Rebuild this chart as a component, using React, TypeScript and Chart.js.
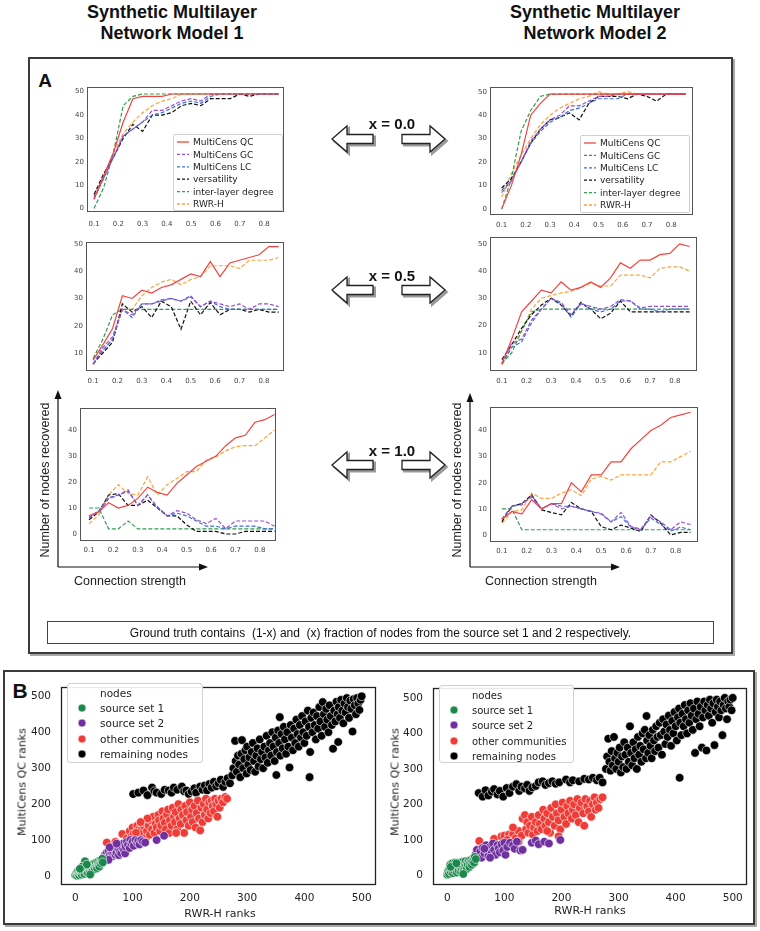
import React, { useEffect, useRef } from "react";
import { Chart, registerables } from "chart.js";
Chart.register(...registerables);

// ------------------------------------------------------------------ data
const connStrength = [0.1, 0.14, 0.18, 0.22, 0.26, 0.3, 0.34, 0.38, 0.42, 0.46, 0.5, 0.54, 0.58, 0.62, 0.66, 0.7, 0.74, 0.78, 0.82, 0.86];
const xTickVals = [0.1, 0.2, 0.3, 0.4, 0.5, 0.6, 0.7, 0.8];
const yTicksTop = [0, 10, 20, 30, 40, 50];
const yTicksMid = [10, 20, 30, 40, 50];
const yTicksBot = [0, 10, 20, 30, 40];
const methodNames = ["MultiCens QC", "MultiCens GC", "MultiCens LC", "versatility", "inter-layer degree", "RWR-H"];

// Model 1, x = 0.0
const m1x00QC = [4, 14, 24, 37, 47, 48, 48, 48, 49, 49, 49, 49, 49, 49, 49, 49, 49, 49, 49, 49];
const m1x00GC = [5, 13, 22, 31, 34, 37, 42, 42, 44, 46, 47, 46, 49, 49, 49, 49, 49, 49, 49, 49];
const m1x00LC = [4, 13, 22, 31, 34, 37, 40, 41, 43, 45, 46, 45, 48, 49, 49, 49, 49, 49, 49, 49];
const m1x00Vers = [6, 15, 22, 30, 36, 33, 40, 40, 41, 44, 45, 44, 47, 47, 47, 49, 48, 49, 49, 49];
const m1x00ILD = [0, 9, 24, 44, 48, 49, 49, 49, 49, 49, 49, 49, 49, 49, 49, 49, 49, 49, 49, 49];
const m1x00RWR = [5, 14, 24, 32, 37, 41, 44, 46, 47, 49, 49, 49, 49, 49, 49, 49, 49, 49, 49, 49];
// Model 2, x = 0.0
const m2x00QC = [0, 10, 23, 40, 45, 49, 49, 49, 49, 49, 49, 49, 49, 49, 49, 49, 49, 49, 49, 49];
const m2x00GC = [7, 12, 20, 29, 34, 38, 40, 44, 44, 46, 48, 48, 49, 49, 49, 49, 49, 49, 49, 49];
const m2x00LC = [8, 12, 20, 28, 33, 37, 39, 42, 43, 45, 47, 47, 47, 49, 49, 49, 49, 49, 49, 49];
const m2x00Vers = [9, 13, 20, 28, 34, 38, 39, 41, 38, 45, 48, 48, 48, 47, 49, 48, 46, 49, 49, 49];
const m2x00ILD = [0, 13, 33, 42, 48, 49, 49, 49, 49, 49, 49, 49, 49, 49, 49, 49, 49, 49, 49, 49];
const m2x00RWR = [5, 15, 23, 30, 36, 40, 43, 45, 47, 48, 50, 49, 49, 50, 49, 49, 49, 49, 49, 49];
// Model 1, x = 0.5
const m1x05QC = [7.4, 13, 19, 31, 30, 33, 32, 34, 35, 37, 39, 38, 43.5, 38, 43, 44, 45, 46, 49, 49];
const m1x05GC = [6, 12, 16, 26, 24, 28, 28, 29.5, 30, 29, 30.5, 27, 29, 28, 27, 28, 26, 28, 28, 27];
const m1x05LC = [6, 11, 15, 26, 23, 28, 28, 29, 30, 29, 31, 27, 29, 27, 26, 26, 26, 26, 26, 26];
const m1x05Vers = [6, 10, 14, 28, 25, 27, 23, 29, 27, 18.7, 29, 24, 28.5, 24, 26, 26, 25, 26, 25, 25];
const m1x05ILD = [8, 15, 24, 26, 26, 26, 26, 26, 26, 26, 26, 26, 26, 26, 26, 26, 26, 26, 26, 26];
const m1x05RWR = [5.6, 11, 15, 26, 26, 31, 34, 36, 37, 35, 37, 38, 42, 42, 42, 41, 44, 44, 44, 45];
// Model 2, x = 0.5
const m2x05QC = [6, 15, 25, 29, 33, 32, 36, 33, 34, 36, 34, 37.5, 43, 41, 44, 44, 46, 46.5, 50, 49];
const m2x05GC = [6, 13.5, 15, 22, 26, 30, 28.5, 24, 28, 27, 26, 27, 29.5, 29, 26.5, 27, 27, 27, 27, 27];
const m2x05LC = [6, 12, 14, 21, 26, 30, 28, 23, 28, 26, 25, 26, 29, 29, 26, 26, 25, 26, 26, 26];
const m2x05Vers = [7.5, 13, 19, 24, 27.5, 30, 27.5, 23.5, 28.5, 26, 22.5, 24.5, 29, 25, 25, 25, 25, 25, 25, 25];
const m2x05ILD = [6, 10, 18, 25, 26, 26, 26, 26, 26, 26, 26, 26, 26, 26, 26, 26, 26, 26, 26, 26];
const m2x05RWR = [5.5, 12, 18, 26, 30, 31, 32, 32.5, 34, 35.5, 34.5, 34.5, 38.5, 38.5, 38.5, 37.5, 41, 41.5, 41.5, 40];
// Model 1, x = 1.0
const m1x10QC = [7, 8.6, 12, 10, 11, 13.7, 18, 16, 15, 19.5, 22.7, 26, 28, 30, 34, 37, 38, 43, 44, 46];
const m1x10GC = [6.5, 8.5, 13.5, 15, 17, 11, 15, 10.5, 7, 9, 8, 5.5, 4, 6, 2, 5, 5, 5, 5, 3];
const m1x10LC = [6, 9, 14, 15, 16.5, 11, 15, 10, 7, 8, 7, 5, 3, 3, 2, 3, 3, 3, 2, 2];
const m1x10Vers = [5.5, 8.5, 15, 15.5, 11, 11, 13, 10, 7, 7, 3.5, 1, 1, 1, 0, 0, 1, 1, 1, 1];
const m1x10ILD = [10, 10, 2, 2, 5, 2, 2, 2, 2, 2, 2, 2, 2, 2, 2, 2, 2, 2, 2, 2];
const m1x10RWR = [4, 7.3, 15, 19, 15.6, 15, 22, 15, 19, 21.4, 24, 24, 28.5, 29.7, 32, 33.6, 34, 34, 37, 40];
// Model 2, x = 1.0
const m2x10QC = [6, 9, 8, 13.5, 10, 12, 12, 20, 16.5, 23, 23, 28, 28, 33, 36.5, 40, 42, 45, 46, 47];
const m2x10GC = [6, 11, 11.5, 15, 10, 12, 10, 11, 10, 9, 8.3, 5, 8.6, 3.2, 2.2, 7.3, 5, 2, 5, 4];
const m2x10LC = [6, 11, 12, 14.5, 10, 12, 11, 11, 10, 9, 8, 5, 7, 3, 2, 6.5, 4, 1.5, 3, 2];
const m2x10Vers = [5, 11, 12, 15.4, 9.6, 8.6, 7.7, 12.4, 10, 9, 3.2, 2, 3.8, 2.6, 1.3, 7.7, 4.5, 0, 1, 1];
const m2x10ILD = [10, 10, 2, 2, 2, 2, 2, 2, 2, 2, 2, 2, 2, 2, 2, 2, 2, 2, 2, 2];
const m2x10RWR = [4.5, 9, 9.6, 16, 14, 14, 16, 17.3, 15, 21.4, 22.4, 21, 23, 23, 23, 23, 28, 28, 30, 32];

// Panel B scatter (RWR-H rank, MultiCens QC rank)
const rankTicks = [0, 100, 200, 300, 400, 500];
const groupNames = ["source set 1", "source set 2", "other communities", "remaining nodes"];

const m1Source1: [number, number][] = [[0,3],[2,8],[3,1],[4,12],[5,5],[6,9],[7,2],[8,14],[9,7],[10,11],[11,4],[12,16],[13,9],[14,20],[15,13],[16,6],[17,41],[18,18],[19,11],[20,24],[21,15],[22,8],[23,21],[24,27],[25,17],[26,12],[27,25],[28,30],[29,20],[30,15],[31,28],[32,34],[33,24],[34,19],[35,31],[36,37],[37,27],[38,22],[39,34],[40,40],[41,30],[42,26],[43,38],[44,44],[45,34],[46,42],[47,48],[48,38],[12,26],[20,32],[26,4],[8,20]];
const m1Source2: [number, number][] = [[50,52],[52,60],[55,65],[55,50],[58,70],[60,58],[62,75],[63,62],[65,55],[66,68],[68,80],[70,72],[70,60],[72,65],[74,85],[75,76],[76,58],[78,70],[80,88],[80,64],[82,78],[84,90],[85,72],[87,63],[88,82],[90,95],[92,86],[95,78],[96,100],[98,90],[100,96],[102,84],[105,100],[108,92],[110,98],[112,88],[115,100],[118,96],[122,93],[142,100],[155,112],[60,80],[72,90],[58,45]];
const m1Other: [number, number][] = [[55,93],[70,95],[82,117],[90,105],[95,125],[98,110],[100,135],[102,118],[105,100],[108,140],[110,128],[112,112],[115,145],[116,130],[118,120],[120,138],[122,148],[124,108],[125,125],[128,140],[130,115],[132,155],[134,130],[136,165],[138,120],[140,145],[142,135],[145,170],[146,155],[148,125],[150,140],[152,180],[154,160],[156,148],[158,130],[160,172],[162,185],[164,120],[165,155],[168,140],[170,190],[172,165],[174,150],[175,178],[178,130],[180,200],[182,160],[184,145],[185,185],[188,170],[190,120],[192,195],[194,155],[195,178],[198,140],[200,205],[202,165],[204,185],[205,150],[208,195],[210,135],[212,175],[214,210],[216,160],[218,127],[220,190],[222,150],[224,200],[226,170],[228,215],[230,185],[232,160],[234,205],[236,175],[238,210],[240,195],[242,180],[244,215],[246,200],[248,165],[250,210],[252,190],[255,215],[258,205],[262,220],[265,215],[176,120],[126,160],[114,150],[106,120]];
const m1Remaining: [number, number][] = [[101,228],[110,232],[119,238],[126,225],[134,246],[138,236],[142,232],[150,228],[156,240],[163,238],[168,232],[172,246],[178,240],[186,249],[190,236],[194,238],[198,228],[203,235],[208,244],[211,232],[218,249],[222,240],[226,252],[230,238],[234,256],[238,246],[242,262],[246,250],[250,258],[254,268],[258,248],[262,262],[266,272],[270,258],[274,280],[276,300],[279,376],[280,320],[282,290],[284,335],[286,310],[288,275],[290,340],[291,378],[293,300],[295,325],[297,350],[299,285],[300,360],[302,310],[304,330],[306,295],[308,345],[310,370],[312,320],[314,290],[316,335],[318,355],[320,305],[322,380],[324,325],[326,345],[328,300],[330,360],[332,330],[334,390],[336,315],[338,350],[340,370],[342,335],[344,400],[346,360],[348,320],[350,385],[351,281],[352,345],[354,405],[356,370],[357,442],[358,335],[360,395],[362,355],[364,415],[366,380],[368,340],[370,400],[372,360],[374,302],[376,420],[378,385],[380,350],[382,410],[384,370],[386,435],[388,395],[390,360],[392,420],[394,385],[396,445],[398,400],[400,370],[402,430],[404,390],[406,460],[408,415],[409,275],[410,345],[412,440],[414,400],[416,455],[418,420],[420,380],[422,445],[424,410],[426,470],[428,430],[430,390],[432,484],[434,450],[436,415],[438,465],[440,435],[442,400],[444,475],[446,445],[448,420],[450,354],[452,460],[454,430],[456,485],[458,450],[459,373],[460,470],[462,440],[464,490],[466,460],[468,425],[470,480],[472,455],[474,495],[476,470],[478,440],[480,488],[482,465],[484,402],[486,492],[488,475],[490,450],[492,495],[494,480],[496,462],[498,490],[500,500]];

const m2Source1: [number, number][] = [[0,2],[1,8],[2,14],[3,4],[4,20],[5,30],[6,10],[7,26],[8,16],[9,34],[10,6],[11,22],[12,30],[13,12],[14,36],[15,18],[16,26],[17,8],[18,32],[19,20],[20,14],[21,28],[22,36],[23,22],[24,10],[25,30],[26,18],[27,38],[28,26],[29,14],[30,34],[31,22],[32,40],[33,28],[34,18],[35,36],[36,30],[38,42],[39,24],[40,36],[42,44],[43,30],[44,40],[46,48],[47,36],[48,52],[50,46],[6,24],[16,34],[28,4]];
const m2Source2: [number, number][] = [[50,60],[52,72],[55,55],[58,68],[60,50],[62,78],[65,62],[68,85],[70,70],[72,55],[75,80],[78,65],[80,90],[82,72],[85,58],[88,85],[90,76],[92,65],[95,88],[98,70],[100,92],[102,58],[105,80],[110,92],[115,85],[118,75],[122,95],[128,70],[132,72],[148,92],[155,98],[160,88],[170,95],[178,90],[198,100],[65,75],[75,50]];
const m2Other: [number, number][] = [[56,97],[82,103],[95,110],[100,112],[108,115],[115,118],[120,105],[125,125],[130,112],[132,160],[136,170],[138,130],[140,150],[142,120],[145,140],[148,165],[150,115],[152,135],[155,150],[158,125],[160,170],[162,145],[165,130],[168,185],[170,160],[172,140],[175,175],[178,150],[180,120],[182,190],[185,165],[188,140],[190,200],[192,175],[195,155],[198,130],[200,185],[202,205],[205,165],[208,145],[210,195],[212,175],[215,210],[218,160],[220,185],[222,200],[225,170],[228,215],[230,150],[232,190],[235,205],[238,175],[240,140],[242,215],[245,195],[248,180],[250,210],[252,165],[255,200],[258,220],[260,185],[262,205],[265,190],[268,215],[272,220],[115,135],[105,100],[125,95],[175,125],[195,110]];
const m2Remaining: [number, number][] = [[55,232],[62,222],[67,240],[72,225],[78,236],[82,243],[88,228],[92,238],[98,222],[104,246],[109,232],[115,250],[121,257],[126,238],[130,250],[136,245],[140,255],[144,238],[149,248],[155,252],[160,262],[167,265],[172,255],[178,260],[184,265],[190,258],[196,262],[208,270],[215,262],[220,268],[231,265],[240,272],[248,270],[255,275],[262,268],[267,275],[272,262],[278,300],[280,335],[282,385],[284,320],[286,295],[288,350],[290,310],[292,390],[294,330],[296,300],[298,345],[300,320],[302,360],[304,290],[306,335],[308,305],[310,375],[312,340],[314,300],[316,360],[318,320],[320,420],[322,345],[324,310],[326,375],[328,330],[330,355],[332,300],[334,390],[336,340],[338,365],[340,320],[342,400],[344,355],[346,410],[348,330],[349,449],[350,380],[352,345],[354,395],[356,365],[358,330],[360,410],[362,380],[364,350],[366,420],[368,390],[370,360],[372,430],[374,395],[376,340],[378,440],[380,405],[382,370],[384,425],[386,390],[388,450],[390,410],[392,365],[394,435],[396,400],[398,460],[400,420],[402,380],[404,445],[406,470],[407,275],[408,430],[410,395],[412,455],[414,420],[416,480],[418,440],[420,400],[422,465],[424,430],[426,485],[428,450],[430,410],[432,470],[434,345],[436,440],[438,490],[440,455],[442,420],[444,475],[446,360],[448,445],[450,490],[452,465],[454,352],[456,480],[458,450],[460,495],[462,470],[464,430],[466,485],[468,367],[470,460],[472,495],[474,475],[476,445],[478,490],[480,465],[482,395],[484,480],[486,500],[488,470],[490,440],[492,490],[494,475],[496,495],[498,465],[500,500]];

// ------------------------------------------------------------------ styles
const methodColors = ["#f4433f", "#9a4fd0", "#3d6fdc", "#111111", "#2f9e51", "#ffa33b"];
const methodDash: number[][] = [[], [4, 2], [4, 2], [4, 2], [4, 2], [4, 2]];
const groupColors = ["#1b874b", "#70309f", "#f03c37", "#000000"];
const SANS = "'Liberation Sans', Arial, sans-serif";
const DJV = "'DejaVu Sans', sans-serif";

const framePlugin = {
  id: "frame",
  afterDatasetsDraw(chart: any, _a: any, opts: any) {
    const { ctx, chartArea: a } = chart;
    ctx.save();
    ctx.strokeStyle = opts.color || "#444";
    ctx.lineWidth = opts.width || 1;
    ctx.strokeRect(Math.round(a.left) + 0.5, Math.round(a.top) + 0.5, Math.round(a.right - a.left) - 1, Math.round(a.bottom - a.top) - 1);
    ctx.restore();
  },
};

type Plot = { L: number; R: number; T: number; B: number };

function LinePanel(props: { plot: Plot; series: number[][]; y: [number, number]; yTicks: number[]; x: [number, number]; xPad: number }) {
  const { plot, series, y, yTicks, x, xPad } = props;
  const yW = 24, padT = 8, padR = 6, xH = 20;
  const w = plot.R - plot.L + yW + padR;
  const h = plot.B - plot.T + padT + xH;
  const ref = useRef<HTMLCanvasElement>(null);
  useEffect(() => {
    const chart = new Chart(ref.current as HTMLCanvasElement, {
      type: "line",
      data: {
        datasets: series.map((vals, i) => ({
          label: methodNames[i],
          data: connStrength.map((cx, j) => ({ x: cx, y: vals[j] })),
          borderColor: methodColors[i],
          borderWidth: 1.2,
          borderDash: methodDash[i],
          pointRadius: 0,
          fill: false,
          tension: 0,
        })),
      },
      options: {
        animation: false,
        responsive: false,
        devicePixelRatio: 1,
        layout: { padding: { left: 0, top: padT, right: padR, bottom: 0 } },
        plugins: { legend: { display: false }, tooltip: { enabled: false }, frame: { color: "#555", width: 1 } } as any,
        scales: {
          x: {
            type: "linear", min: x[0], max: x[1],
            grid: { display: false, drawTicks: false }, border: { display: false },
            ticks: { font: { family: DJV, size: 7 }, color: "#444", padding: xPad, maxRotation: 0, autoSkip: false, callback: (v: any) => Number(v).toFixed(1) },
            afterBuildTicks: (s: any) => { s.ticks = xTickVals.map((v) => ({ value: v })); },
            afterFit: (s: any) => { s.height = xH; },
          },
          y: {
            type: "linear", min: y[0], max: y[1],
            grid: { display: false, drawTicks: false }, border: { display: false },
            ticks: { font: { family: DJV, size: 7 }, color: "#444", padding: 3, autoSkip: false, callback: (v: any) => String(Math.round(Number(v))) },
            afterBuildTicks: (s: any) => { s.ticks = yTicks.map((v) => ({ value: v })); },
            afterFit: (s: any) => { s.width = yW; },
          },
        },
      },
      plugins: [framePlugin],
    } as any);
    return () => chart.destroy();
  }, []);
  return <canvas ref={ref} width={w} height={h} style={{ position: "absolute", left: plot.L - yW, top: plot.T - padT, width: w, height: h }} />;
}

function ScatterPanel(props: { plot: Plot; groups: [number, number][][]; x: [number, number]; y: [number, number] }) {
  const { plot, groups, x, y } = props;
  const yW = 40, padT = 8, padR = 6, xH = 28;
  const w = plot.R - plot.L + yW + padR;
  const h = plot.B - plot.T + padT + xH;
  const ref = useRef<HTMLCanvasElement>(null);
  useEffect(() => {
    const chart = new Chart(ref.current as HTMLCanvasElement, {
      type: "scatter",
      data: {
        datasets: groups.map((pts, i) => ({
          label: groupNames[i],
          data: pts.map(([px, py]) => ({ x: px, y: py })),
          pointRadius: 4.3,
          pointBackgroundColor: groupColors[i],
          pointBorderColor: "#ffffff",
          pointBorderWidth: 0.6,
        })),
      },
      options: {
        animation: false,
        responsive: false,
        devicePixelRatio: 1,
        layout: { padding: { left: 0, top: padT, right: padR, bottom: 0 } },
        plugins: { legend: { display: false }, tooltip: { enabled: false }, frame: { color: "#222", width: 1.3 } } as any,
        scales: {
          x: {
            type: "linear", min: x[0], max: x[1],
            grid: { display: false, drawTicks: false }, border: { display: false },
            ticks: { font: { family: DJV, size: 10.5 }, color: "#222", padding: 7, maxRotation: 0, autoSkip: false },
            afterBuildTicks: (s: any) => { s.ticks = rankTicks.map((v) => ({ value: v })); },
            afterFit: (s: any) => { s.height = xH; },
          },
          y: {
            type: "linear", min: y[0], max: y[1],
            grid: { display: false, drawTicks: false }, border: { display: false },
            ticks: { font: { family: DJV, size: 10.5 }, color: "#222", padding: 10, autoSkip: false },
            afterBuildTicks: (s: any) => { s.ticks = rankTicks.map((v) => ({ value: v })); },
            afterFit: (s: any) => { s.width = yW; },
          },
        },
      },
      plugins: [framePlugin],
    } as any);
    return () => chart.destroy();
  }, []);
  return <canvas ref={ref} width={w} height={h} style={{ position: "absolute", left: plot.L - yW, top: plot.T - padT, width: w, height: h }} />;
}

function Txt(p: { x: number; y: number; size: number; bold?: boolean; anchor?: "start" | "middle"; rotate?: number; family?: string; color?: string; children: any }) {
  const tx = p.anchor === "start" ? "0" : "-50%";
  return (
    <div
      style={{
        position: "absolute", left: p.x, top: p.y, whiteSpace: "pre", lineHeight: 1,
        fontSize: p.size, fontWeight: p.bold ? 700 : 400, fontFamily: p.family || SANS, color: p.color || "#111",
        transform: `translate(${tx}, -50%)${p.rotate ? ` rotate(${p.rotate}deg)` : ""}`,
      }}
    >
      {p.children}
    </div>
  );
}

function LineLegend(p: { x: number; y: number; w: number; h: number }) {
  return (
    <div style={{ position: "absolute", left: p.x, top: p.y, width: p.w, height: p.h, background: "rgba(255,255,255,0.9)", border: "1px solid #d0d0d0", borderRadius: 2, boxSizing: "border-box" }}>
      <svg width={p.w} height={p.h} style={{ position: "absolute", left: -1, top: -1 }}>
        {methodNames.map((n, i) => (
          <g key={n}>
            <line x1={4} x2={16} y1={8 + i * 12.4} y2={8 + i * 12.4} stroke={methodColors[i]} strokeWidth={1.3} strokeDasharray={i === 0 ? undefined : "3 2"} />
            <text x={20} y={8 + i * 12.4 + 3.2} fontSize={9} fontFamily={DJV} fill="#222">{n}</text>
          </g>
        ))}
      </svg>
    </div>
  );
}

function ScatterLegend(p: { x: number; y: number; w: number; h: number; size: number }) {
  const rows = [25, 40, 56, 71];
  return (
    <div style={{ position: "absolute", left: p.x, top: p.y, width: p.w, height: p.h, background: "rgba(255,255,255,0.9)", border: "1px solid #d0d0d0", borderRadius: 3, boxSizing: "border-box" }}>
      <svg width={p.w} height={p.h} style={{ position: "absolute", left: -1, top: -1 }}>
        <text x={33} y={10 + p.size * 0.36} fontSize={p.size} fontFamily={DJV} fill="#222">nodes</text>
        {groupNames.map((n, i) => (
          <g key={n}>
            <circle cx={15} cy={rows[i]} r={4} fill={groupColors[i]} stroke="#fff" strokeWidth={0.6} />
            <text x={33} y={rows[i] + p.size * 0.36} fontSize={p.size} fontFamily={DJV} fill="#222">{n}</text>
          </g>
        ))}
      </svg>
    </div>
  );
}

function blockArrows(cy: number) {
  const hh = 13, sh = 4.5;
  const left = `M332,${cy} L347,${cy - hh} L347,${cy - sh} L373,${cy - sh} L373,${cy + sh} L347,${cy + sh} L347,${cy + hh} Z`;
  const right = `M445,${cy} L430,${cy - hh} L430,${cy - sh} L402,${cy - sh} L402,${cy + sh} L430,${cy + sh} L430,${cy + hh} Z`;
  return (
    <g key={cy}>
      {[left, right].map((d, i) => (
        <g key={i}>
          <path d={d} transform="translate(2,2)" fill="#9a9a9a" stroke="#9a9a9a" strokeWidth={2} strokeLinejoin="miter" />
          <path d={d} fill="#fff" stroke="#222" strokeWidth={1.3} strokeLinejoin="miter" />
        </g>
      ))}
    </g>
  );
}

function axisArrows(x0: number, yTip: number, y0: number, xTip: number) {
  return (
    <g key={x0}>
      <line x1={x0} y1={y0} x2={x0} y2={yTip + 6} stroke="#111" strokeWidth={1.2} />
      <polygon points={`${x0},${yTip} ${x0 - 3.5},${yTip + 9} ${x0 + 3.5},${yTip + 9}`} fill="#111" />
      <line x1={x0} y1={y0} x2={xTip - 6} y2={y0} stroke="#111" strokeWidth={1.2} />
      <polygon points={`${xTip},${y0} ${xTip - 9},${y0 - 3.5} ${xTip - 9},${y0 + 3.5}`} fill="#111" />
    </g>
  );
}

export default function App() {
  const lx: [number, number] = [0.071, 0.882];
  const rx: [number, number] = [0.052, 0.89];
  return (
    <div style={{ position: "absolute", left: 0, top: 0, width: 760, height: 931, background: "#fff", overflow: "hidden" }}>
      {/* titles */}
      <Txt x={172} y={12} size={18} bold>Synthetic Multilayer</Txt>
      <Txt x={172} y={33} size={18} bold>Network Model 1</Txt>
      <Txt x={595} y={12} size={18} bold>Synthetic Multilayer</Txt>
      <Txt x={595} y={33} size={18} bold>Network Model 2</Txt>

      {/* panel frames */}
      <div style={{ position: "absolute", left: 28, top: 57, width: 705, height: 597, border: "2px solid #3a3a3a", boxShadow: "2px 2px 0 #a8a8a8", boxSizing: "border-box" }} />
      <div style={{ position: "absolute", left: 3, top: 670, width: 752, height: 255, border: "2px solid #3a3a3a", boxShadow: "2px 2px 0 #a8a8a8", boxSizing: "border-box" }} />
      <Txt x={45} y={80} size={19} bold>A</Txt>
      <Txt x={20} y={690} size={21} bold>B</Txt>

      {/* Panel A line charts */}
      <LinePanel plot={{ L: 87, R: 284, T: 87, B: 212 }} series={[m1x00QC, m1x00GC, m1x00LC, m1x00Vers, m1x00ILD, m1x00RWR]} y={[-1.5, 52]} yTicks={yTicksTop} x={lx} xPad={8} />
      <LinePanel plot={{ L: 490, R: 693, T: 87, B: 215 }} series={[m2x00QC, m2x00GC, m2x00LC, m2x00Vers, m2x00ILD, m2x00RWR]} y={[-2.5, 52]} yTicks={yTicksTop} x={rx} xPad={6} />
      <LinePanel plot={{ L: 86, R: 284, T: 242, B: 371 }} series={[m1x05QC, m1x05GC, m1x05LC, m1x05Vers, m1x05ILD, m1x05RWR]} y={[3.4, 50.7]} yTicks={yTicksMid} x={lx} xPad={6} />
      <LinePanel plot={{ L: 490, R: 697, T: 237, B: 371 }} series={[m2x05QC, m2x05GC, m2x05LC, m2x05Vers, m2x05ILD, m2x05RWR]} y={[3.3, 52.5]} yTicks={yTicksMid} x={rx} xPad={6} />
      <LinePanel plot={{ L: 80, R: 276, T: 408, B: 541 }} series={[m1x10QC, m1x10GC, m1x10LC, m1x10Vers, m1x10ILD, m1x10RWR]} y={[-2.7, 48.5]} yTicks={yTicksBot} x={[0.063, 0.866]} xPad={5} />
      <LinePanel plot={{ L: 490, R: 698, T: 407, B: 542 }} series={[m2x10QC, m2x10GC, m2x10LC, m2x10Vers, m2x10ILD, m2x10RWR]} y={[-2.7, 49]} yTicks={yTicksBot} x={rx} xPad={5} />

      <LineLegend x={173} y={134} w={110} h={77} />
      <LineLegend x={580} y={135} w={110} h={78} />

      <svg width={760} height={931} style={{ position: "absolute", left: 0, top: 0, pointerEvents: "none" }}>
        {blockArrows(139)}
        {blockArrows(290)}
        {blockArrows(465)}
        {axisArrows(58, 390, 567, 208)}
        {axisArrows(470, 393, 567, 620)}
      </svg>

      <Txt x={392} y={123} size={15} bold>x = 0.0</Txt>
      <Txt x={392} y={275} size={15} bold>x = 0.5</Txt>
      <Txt x={392} y={450} size={15} bold>x = 1.0</Txt>

      <Txt x={45} y={480} size={12.5} rotate={-90} color="#222">Number of nodes recovered</Txt>
      <Txt x={457} y={480} size={12.5} rotate={-90} color="#222">Number of nodes recovered</Txt>
      <Txt x={74} y={581} size={12.5} anchor="start" color="#222">Connection strength</Txt>
      <Txt x={485} y={581} size={12.5} anchor="start" color="#222">Connection strength</Txt>

      <div style={{ position: "absolute", left: 47, top: 621, width: 667, height: 23, border: "1px solid #444", boxSizing: "border-box", display: "flex", alignItems: "center", justifyContent: "center", fontFamily: SANS, fontSize: 12, color: "#111", whiteSpace: "pre" }}>
        Ground truth contains  (1-x) and  (x) fraction of nodes from the source set 1 and 2 respectively.
      </div>

      {/* Panel B scatter plots */}
      <ScatterPanel plot={{ L: 61, R: 376, T: 679, B: 885 }} groups={[m1Source1, m1Source2, m1Other, m1Remaining]} x={[-25, 525]} y={[-25, 525]} />
      <ScatterPanel plot={{ L: 433, R: 747, T: 680, B: 885 }} groups={[m2Source1, m2Source2, m2Other, m2Remaining]} x={[-25, 525]} y={[-27, 527]} />
      <ScatterLegend x={67} y={683} w={136} h={80} size={10.5} />
      <ScatterLegend x={439} y={685} w={135} h={78} size={10} />

      <Txt x={22} y={782} size={11} rotate={-90} family={DJV} color="#222">MultiCens QC ranks</Txt>
      <Txt x={395} y={782} size={11} rotate={-90} family={DJV} color="#222">MultiCens QC ranks</Txt>
      <Txt x={220} y={913} size={11} family={DJV} color="#222">RWR-H ranks</Txt>
      <Txt x={590} y={910} size={11} family={DJV} color="#222">RWR-H ranks</Txt>
    </div>
  );
}
